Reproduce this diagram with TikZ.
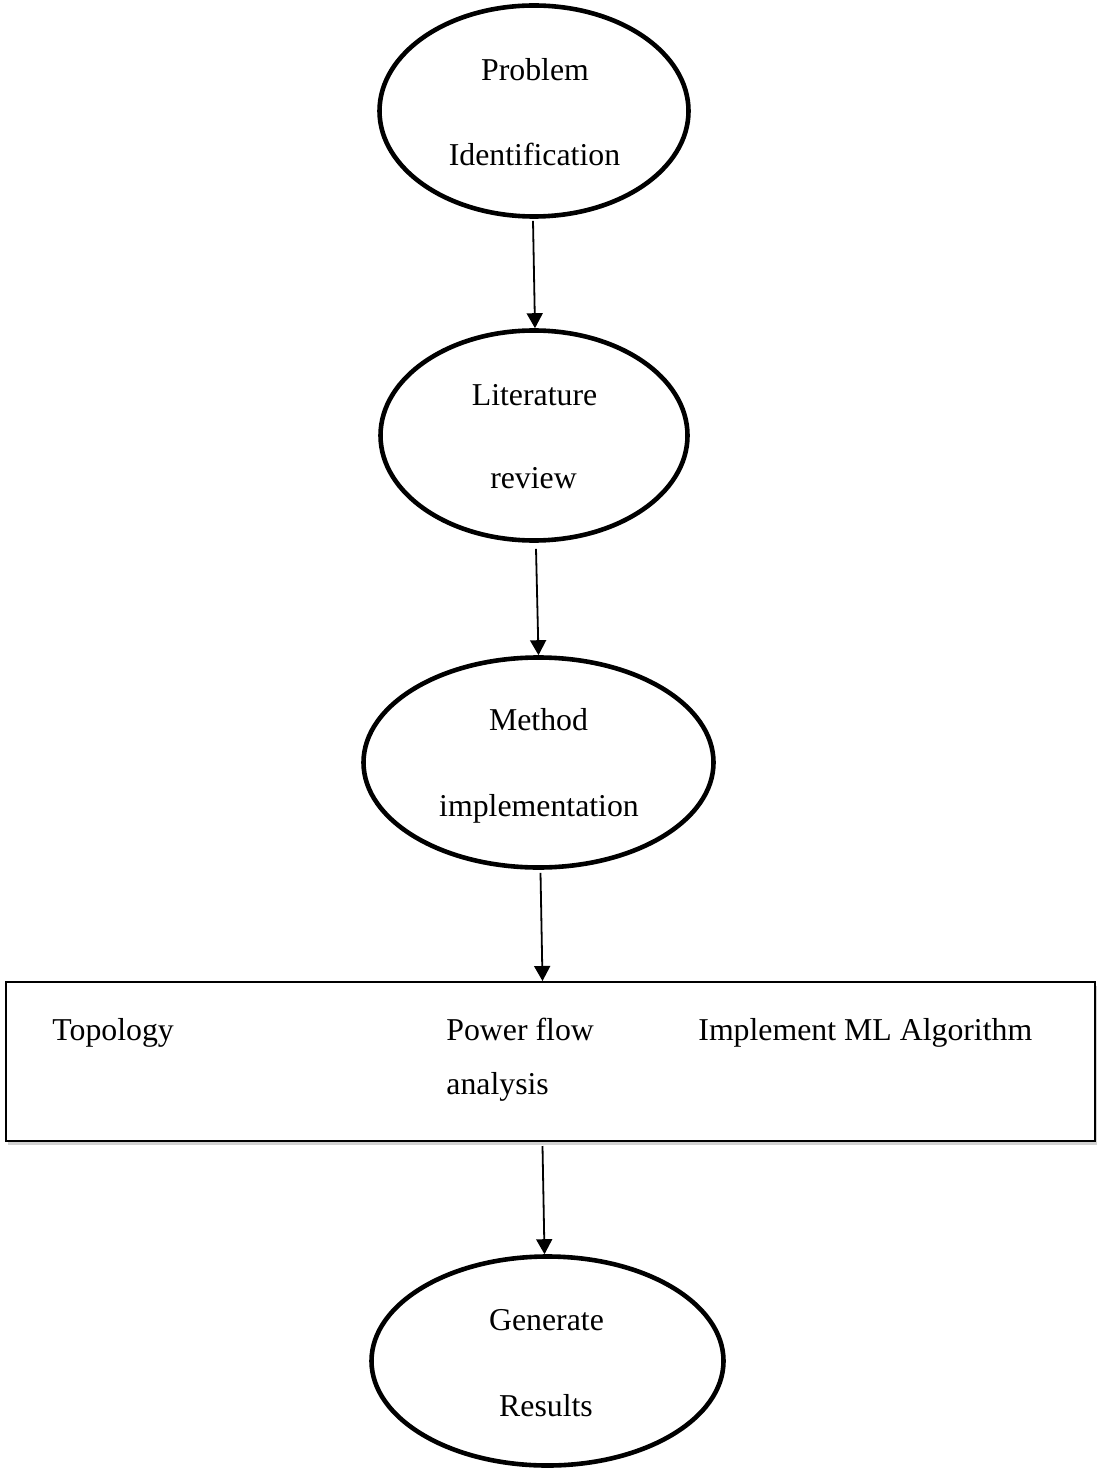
\documentclass[tikz,border=0pt]{standalone}
\usepackage{fontspec}
\setmainfont{Liberation Serif}
\usetikzlibrary{shapes.geometric,arrows.meta,shadows}
\begin{document}
\begin{tikzpicture}[x=0.5pt,y=-0.5pt,
  oval/.style={draw,ellipse,line width=2.3pt,inner sep=0pt},
  lbl/.style={anchor=base,inner sep=0pt,font=\fontsize{15.9}{19}\selectfont},
  boxlbl/.style={anchor=base west,inner sep=0pt,font=\fontsize{15.9}{19}\selectfont},
  arr/.style={line width=0.9pt,-{Triangle[width=8pt,length=7.5pt]}}]
\useasboundingbox (0,0) rectangle (1098,1470);
% ellipses
\node[oval,minimum width=154.5pt,minimum height=105.5pt] (p) at (534,111) {};
\node[oval,minimum width=153.5pt,minimum height=105pt] (l) at (534,435.5) {};
\node[oval,minimum width=175pt,minimum height=105pt] (m) at (538.5,762.5) {};
\node[oval,minimum width=176pt,minimum height=104.5pt] (g) at (547.5,1361) {};
% box
\node[draw,rectangle,line width=1pt,inner sep=0pt,minimum width=544.5pt,minimum height=79.5pt,
  drop shadow={shadow xshift=1.2pt,shadow yshift=-1.8pt,fill=black!30,opacity=0.6},fill=white] (b) at (550.5,1061.5) {};
% labels
\node[lbl] (p1) at (535,80.5) {Problem};
\node[lbl] (p2) at (534.5,166) {Identification};
\node[lbl] (l1) at (534.5,405.5) {Literature};
\node[lbl] (l2) at (533.5,488) {review};
\node[lbl] (m1) at (538.5,730.5) {Method};
\node[lbl] (m2) at (539,816) {implementation};
\node[lbl] (g1) at (546.5,1330.5) {Generate};
\node[lbl] (g2) at (546,1416.5) {Results};
\node[boxlbl] (t1) at (52,1040) {Topology};
\node[boxlbl] (t2) at (446,1040) {Power flow};
\node[boxlbl] (t3) at (446,1094) {analysis};
\node[boxlbl] (t4) at (698,1040) {Implement ML Algorithm};
% arrows
\draw[arr] ([xshift=-0.5pt,yshift=-1pt]p.south) -- ([xshift=0.5pt]l.north);
\draw[arr] ([xshift=1pt,yshift=-3pt]l.south) -- (m.north);
\draw[arr] ([xshift=1pt,yshift=-1.5pt]m.south) -- ([xshift=2pt]m.south |- b.north);
\coordinate (bs) at ([yshift=-2pt]g.north |- b.south);
\draw[arr] ([xshift=-2.5pt]bs) -- ([xshift=-1.5pt]g.north);
\end{tikzpicture}
\end{document}
